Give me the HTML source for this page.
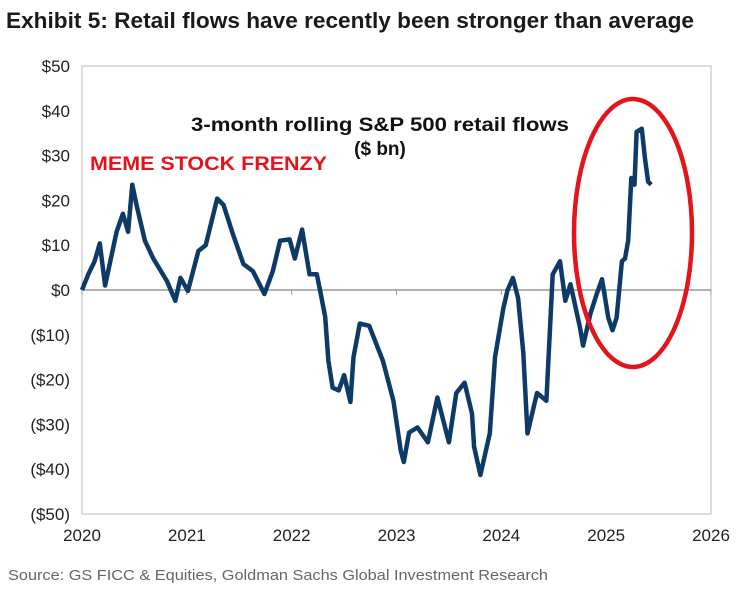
<!DOCTYPE html>
<html><head><meta charset="utf-8"><style>
body{margin:0;background:#fff;}
svg{display:block;font-family:"Liberation Sans",Arial,sans-serif;}
</style></head><body>
<svg id="chart" width="742" height="590" viewBox="0 0 742 590">
<text x="6" y="28" font-size="22" font-weight="bold" fill="#1a1a1a" textLength="688" lengthAdjust="spacingAndGlyphs">Exhibit 5: Retail flows have recently been stronger than average</text>
<rect x="82" y="66" width="629" height="448" fill="none" stroke="#bbb" stroke-width="1"/>
<g id="yaxis"></g>
<g id="xaxis"></g>
<line id="zero" stroke="#999" stroke-width="1.5"/>
<path id="series" fill="none" stroke="#0d3a66" stroke-width="4.5" stroke-linejoin="round"/>
<text x="380" y="131" font-size="19" font-weight="bold" text-anchor="middle" fill="#111" textLength="378" lengthAdjust="spacingAndGlyphs">3-month rolling S&amp;P 500 retail flows</text>
<text x="380" y="155" font-size="19" font-weight="bold" text-anchor="middle" fill="#111">($ bn)</text>
<text x="90" y="170" font-size="19" font-weight="bold" fill="#e3141c" textLength="237" lengthAdjust="spacingAndGlyphs">MEME STOCK FRENZY</text>
<ellipse cx="633" cy="233" rx="59" ry="134" fill="none" stroke="#e3141c" stroke-width="4.5"/>
<text x="8" y="580" font-size="15" fill="#666" textLength="540" lengthAdjust="spacingAndGlyphs">Source: GS FICC &amp; Equities, Goldman Sachs Global Investment Research</text>
</svg>
<script>
const dates=[2020.0,2020.06,2020.12,2020.17,2020.22,2020.27,2020.33,2020.39,2020.44,2020.48,2020.52,2020.6,2020.68,2020.81,2020.89,2020.94,2021.01,2021.11,2021.18,2021.29,2021.35,2021.44,2021.54,2021.63,2021.74,2021.82,2021.89,2021.98,2022.03,2022.1,2022.17,2022.24,2022.27,2022.32,2022.35,2022.39,2022.45,2022.5,2022.56,2022.59,2022.65,2022.74,2022.87,2022.97,2023.04,2023.07,2023.12,2023.2,2023.3,2023.39,2023.5,2023.57,2023.65,2023.72,2023.74,2023.8,2023.89,2023.94,2024.02,2024.06,2024.11,2024.16,2024.21,2024.25,2024.34,2024.43,2024.49,2024.56,2024.61,2024.66,2024.75,2024.78,2024.85,2024.91,2024.96,2025.02,2025.06,2025.1,2025.15,2025.18,2025.21,2025.24,2025.27,2025.29,2025.34,2025.37,2025.4,2025.43];
const values=[0,3.5,6.4,10.4,1,6.4,13,17,13,23.5,19,11,7,2,-2.4,2.7,-0.2,8.7,10,20.4,19,12.4,5.8,4.2,-0.9,4.2,11,11.3,7,13.5,3.5,3.5,0,-6,-15.8,-21.8,-22.4,-19,-25,-15,-7.5,-8,-15.8,-24.7,-35.8,-38.4,-31.8,-30.7,-34,-24,-34,-23,-20.7,-27.6,-35,-41.3,-32,-15,-4,0,2.7,-1.8,-14,-32,-23,-24.7,3.5,6.4,-2.4,1.3,-8.4,-12.4,-5.3,-0.9,2.4,-6.2,-9,-6.2,6.4,7,11,25,23.5,35.3,36,29.3,24.2,23.5,20.4];
const yTicks=[50,40,30,20,10,0,-10,-20,-30,-40,-50];
const xTicks=[2020,2021,2022,2023,2024,2025,2026];
const X0=82,X1=711,Y0=514,Y1=66;
const xs=t=>X0+(t-2020)/6*(X1-X0);
const ys=v=>Y0-(v+50)/100*(Y0-Y1);
const NS="http://www.w3.org/2000/svg";
const fmt=v=>v<0?"($"+(-v)+")":"$"+v;
const ya=document.getElementById('yaxis');
yTicks.forEach(v=>{const t=document.createElementNS(NS,'text');


t.setAttribute('x',70);t.setAttribute('y',ys(v)+6);t.setAttribute('text-anchor','end');t.setAttribute('font-size','17');t.setAttribute('fill','#222');t.textContent=fmt(v);ya.appendChild(t);});
const xa=document.getElementById('xaxis');
xTicks.forEach(y=>{const t=document.createElementNS(NS,'text');


t.setAttribute('x',xs(y));t.setAttribute('y',541);t.setAttribute('text-anchor','middle');t.setAttribute('font-size','17');t.setAttribute('fill','#222');t.textContent=y;xa.appendChild(t);
const l=document.createElementNS(NS,'line');


l.setAttribute('x1',xs(y));l.setAttribute('x2',xs(y));l.setAttribute('y1',ys(0));l.setAttribute('y2',ys(0)+5);l.setAttribute('stroke','#999');xa.appendChild(l);});
const z=document.getElementById('zero');z.setAttribute('x1',X0);z.setAttribute('x2',X1);z.setAttribute('y1',ys(0));z.setAttribute('y2',ys(0));
document.getElementById('series').setAttribute('d',dates.map((d,i)=>(i?'L':'M')+xs(d).toFixed(1)+','+ys(values[i]).toFixed(1)).join(''));
</script>
</body></html>
